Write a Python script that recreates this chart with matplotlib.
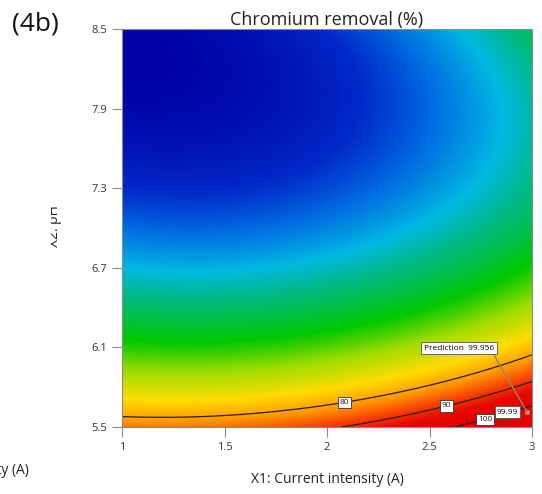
import numpy as np
import matplotlib
matplotlib.use('Agg')
import matplotlib.pyplot as plt
from matplotlib.colors import LinearSegmentedColormap, Normalize
from matplotlib.transforms import Bbox, TransformedBbox

plt.rcParams['font.family'] = ['Open Sans', 'DejaVu Sans']

# Response surface (quadratic model), u = X1 - 2, v = pH - 7
# Y = b0 + b1*u + b2*v + b12*u*v + b11*u^2 + b22*v^2 + b122*u*v^2
b0, b1, b2, b12, b11, b22, b122 = 29.5, 10.2, -22.9, 1.6, 7.7, 11.2, 2.2

x1_range = [1.0, 3.0]
ph_range = [5.5, 8.5]
x_ticks = [1, 1.5, 2, 2.5, 3]
x_tick_labels = ['1', '1.5', '2', '2.5', '3']
y_ticks = [5.5, 6.1, 6.7, 7.3, 7.9, 8.5]

contour_levels = [80, 90, 100]
contour_label_spots = [(2.08, 5.73), (2.58, 5.68), (2.77, 5.56)]

pred_x1 = 2.976
pred_ph = 5.613
pred_text = 'Prediction  99.956'
pred_flag = '99.99'

# Design-Expert like colour ramp (value -> colour)
cmap_values = [10, 20, 27, 35, 41, 54, 64, 74, 82, 88, 94, 100]
cmap_colors = ['#0000a5', '#0028c8', '#006ee1', '#00b9e1', '#00b98c', '#00c800',
               '#a0dc00', '#ffdc00', '#ff9600', '#fa4600', '#e60a00', '#e10000']

vmin, vmax = cmap_values[0], cmap_values[-1]
stops = [(v - vmin) / (vmax - vmin) for v in cmap_values]
cmap = LinearSegmentedColormap.from_list('de', list(zip(stops, cmap_colors)))


def response(x1, ph):
    u = x1 - 2.0
    v = ph - 7.0
    return b0 + b1*u + b2*v + b12*u*v + b11*u**2 + b22*v**2 + b122*u*v**2


gx = np.linspace(x1_range[0], x1_range[1], 300)
gy = np.linspace(ph_range[0], ph_range[1], 300)
X1, PH = np.meshgrid(gx, gy)
Z = response(X1, PH)

fig = plt.figure(figsize=(5.42, 4.94), dpi=100)
ax = fig.add_axes([122/542, 1 - 427/494, 410/542, 398/494])

ax.imshow(Z, extent=[x1_range[0], x1_range[1], ph_range[0], ph_range[1]],
          origin='lower', aspect='auto', cmap=cmap,
          norm=Normalize(vmin, vmax), interpolation='bilinear')

cs = ax.contour(X1, PH, Z, levels=contour_levels, colors='#2b1d10', linewidths=0.9)
labels = ax.clabel(cs, fmt='%d', manual=contour_label_spots, inline=False, fontsize=6)
for t in labels:
    t.set_rotation(0)
    t.set_bbox(dict(boxstyle='square,pad=0.25', fc='white', ec='#333333', lw=0.6))

# prediction flag
ax.plot(pred_x1, pred_ph, 's', ms=2.5, color='#e89090', mec='#c86a6a', mew=0.5)
ax.annotate(pred_text, xy=(pred_x1, pred_ph), xytext=(-49, 46),
            textcoords='offset points', ha='center', va='center', fontsize=6,
            bbox=dict(boxstyle='square,pad=0.3', fc='white', ec='#555555', lw=0.6),
            arrowprops=dict(arrowstyle='-', color='#9b8472', lw=1,
                            relpos=(0.97, 0.0), shrinkA=0, shrinkB=0))
ax.annotate(pred_flag, xy=(pred_x1, pred_ph), xytext=(-14, 0),
            textcoords='offset points', ha='center', va='center', fontsize=6,
            bbox=dict(boxstyle='square,pad=0.25', fc='white', ec='#555555', lw=0.6))

ax.set_xlim(x1_range)
ax.set_ylim(ph_range)
ax.set_xticks(x_ticks)
ax.set_xticklabels(x_tick_labels)
ax.set_yticks(y_ticks)
for s in ax.spines.values():
    s.set_color('#8a8a8a')
    s.set_linewidth(0.8)
ax.tick_params(direction='out', length=7.5, width=0.8, color='#8a8a8a',
               labelsize=8, labelcolor='#333333', pad=3)

ax.set_title('Chromium removal (%)', fontsize=13, pad=3, color='#222222')
ax.set_xlabel('X1: Current intensity (A)', fontsize=10, color='#222222', va='center')
ax.xaxis.set_label_coords(0.5, -(479 - 427) / 398)

# clipped y label (panel cut from a larger figure)
yl = fig.text(55/542, 1 - 226/494, 'X2: pH', rotation=90, ha='center', va='center',
              fontsize=10, color='#222222')
yl.set_clip_box(TransformedBbox(Bbox([[51/542, 0], [1, 1]]), fig.transFigure))
yl.set_clip_on(True)

# leftover label of neighbouring panel
fig.text(29/542, 1 - 470/494, 'X1: Current intensity (A)', ha='right', va='center',
         fontsize=10, color='#222222')

fig.text(12/542, 1 - 24/494, '(4b)', ha='left', va='center', fontsize=19, color='#111111')

fig.savefig('out.png', dpi=100)
